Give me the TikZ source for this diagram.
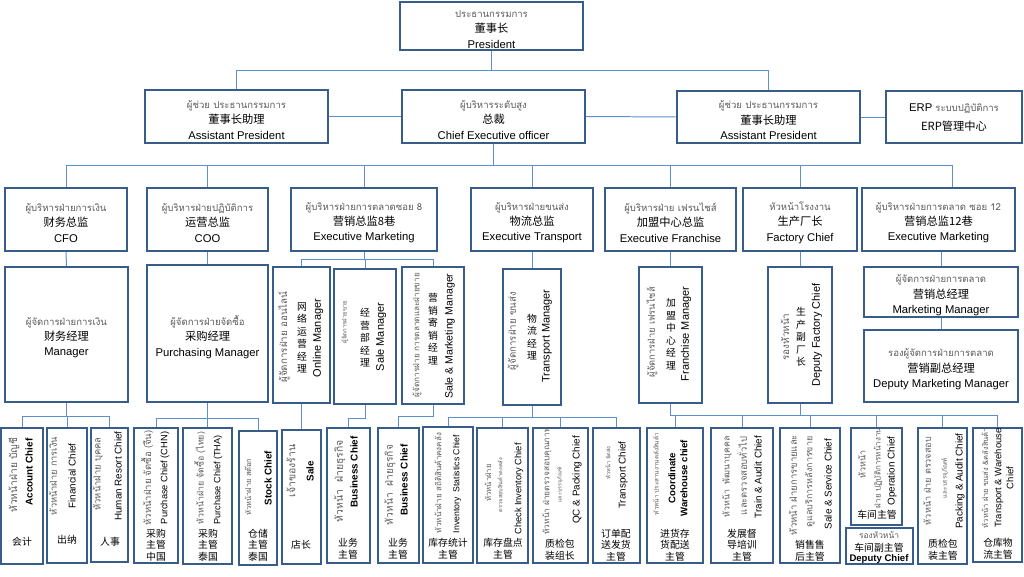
\documentclass[tikz,border=0pt]{standalone}
\usepackage{fontspec}
\setmainfont{Liberation Sans}
\newfontfamily\thaifont[Script=Thai]{Loma}
\newfontfamily\cjkfont{Noto Sans CJK SC}
\usepackage{xcolor}
\usepackage{graphicx}
\usetikzlibrary{fit, calc}
\definecolor{orgblue}{HTML}{385D8A}
\definecolor{orglink}{HTML}{5B8FCF}
\definecolor{orggray}{HTML}{5A5A5A}
\newlength{\pxu}
\setlength{\pxu}{0.025cm}
\newcommand{\tht}[1]{{\thaifont\fontsize{6.8}{11}\selectfont\color{orggray}#1}}
\newcommand{\cn}[1]{{\cjkfont #1}}
\newcommand{\thfit}[2]{\resizebox{#1\pxu}{!}{#2}}

\begin{document}
\begin{tikzpicture}[x=0.025cm, y=-0.025cm,
  unit/.style={draw=orgblue, line width=1.4pt, inner sep=0pt},
  hlbl/.style={align=center, inner sep=0pt, yshift=-0.8mm, font=\fontsize{8}{11}\selectfont},
  link/.style={draw=orglink, line width=0.7pt},
  rthai/.style={rotate=90, inner sep=0pt, font=\thaifont\fontsize{6.2}{8}\selectfont, text=orggray},
  reng/.style={rotate=90, inner sep=0pt, align=center, font=\fontsize{7}{8.5}\selectfont},
  rengm/.style={rotate=90, inner sep=0pt, font=\fontsize{7.8}{9}\selectfont},
  vcjk/.style={inner sep=0pt, align=center, font=\cjkfont\fontsize{7}{8.9}\selectfont},
  hcjk/.style={inner sep=0pt, align=center, font=\cjkfont\fontsize{7}{8.3}\selectfont},
]
\useasboundingbox (0,0) rectangle (1024,577);

% top levels
\node[unit, fit={(400,2) (583,50)}] (pres) {};
\node[hlbl] (presT) at (pres) {\tht{ประธานกรรมการ}\\\cn{董事长}\\President};
\node[unit, fit={(145,90) (328,143)}] (apl) {};
\node[hlbl] (aplT) at (apl) {\tht{ผู้ช่วย ประธานกรรมการ}\\\cn{董事长助理}\\Assistant President};
\node[unit, fit={(402,90) (585,143)}] (ceo) {};
\node[hlbl] (ceoT) at (ceo) {\tht{ผู้บริหารระดับสูง}\\\cn{总裁}\\Chief Executive officer};
\node[unit, fit={(677,91) (860,143)}] (apr) {};
\node[hlbl] (aprT) at (apr) {\tht{ผู้ช่วย ประธานกรรมการ}\\\cn{董事长助理}\\Assistant President};
\node[unit, fit={(886,91) (1022,143)}] (erp) {};
\node[hlbl, yshift=0.7mm] (erpT) at (erp) {ERP \tht{ระบบปฏิบัติการ}\\[2.5pt]\cn{ERP管理中心}};

% executives
\node[unit, fit={(5,188) (127,251)}] (cfo) {};
\node[hlbl] (cfoT) at (cfo) {\tht{ผู้บริหารฝ่ายการเงิน}\\\cn{财务总监}\\CFO};
\node[unit, fit={(147,188) (268,251)}] (coo) {};
\node[hlbl] (cooT) at (coo) {\tht{ผู้บริหารฝ่ายปฏิบัติการ}\\\cn{运营总监}\\COO};
\node[unit, fit={(291,188) (437,251)}] (m8) {};
\node[hlbl] (m8T) at (m8) {\tht{ผู้บริหารฝ่ายการตลาดซอย 8}\\\cn{营销总监8巷}\\Executive Marketing};
\node[unit, fit={(471,188) (593,251)}] (trans) {};
\node[hlbl] (transT) at (trans) {\tht{ผู้บริหารฝ่ายขนส่ง}\\\cn{物流总监}\\Executive Transport};
\node[unit, fit={(605,188) (736,251)}] (fran) {};
\node[hlbl] (franT) at (fran) {\tht{ผู้บริหารฝ่าย เฟรนไชส์}\\\cn{加盟中心总监}\\Executive Franchise};
\node[unit, fit={(743,188) (857,251)}] (fact) {};
\node[hlbl] (factT) at (fact) {\tht{หัวหน้าโรงงาน}\\\cn{生产厂长}\\Factory Chief};
\node[unit, fit={(862,188) (1015,251)}] (m12) {};
\node[hlbl] (m12T) at (m12) {\tht{ผู้บริหารฝ่ายการตลาด ซอย 12}\\\cn{营销总监12巷}\\Executive Marketing};

% managers
\node[unit, fit={(5,267) (128,402)}] (cfomgr) {};
\node[hlbl] (cfomgrT) at (cfomgr) {\tht{ผู้จัดการฝ่ายการเงิน}\\\cn{财务经理}\\Manager};
\node[unit, fit={(147,265) (268,402)}] (purch) {};
\node[hlbl] (purchT) at (purch) {\tht{ผู้จัดการฝ่ายจัดซื้อ}\\\cn{采购经理}\\Purchasing Manager};
\node[unit, fit={(273,267) (330,403)}] (onl) {};
\node[unit, fit={(334,269) (396,404)}] (salmgr) {};
\node[unit, fit={(402,267) (464,404)}] (sm) {};
\node[unit, fit={(503,269) (561,405)}] (tmgr) {};
\node[unit, fit={(639,267) (702,403)}] (fmgr) {};
\node[unit, fit={(768,267) (832,403)}] (fdep) {};
\node[unit, fit={(864,267) (1018,317)}] (mm) {};
\node[hlbl] (mmT) at (mm) {\tht{ผู้จัดการฝ่ายการตลาด}\\\cn{营销总经理}\\Marketing Manager};
\node[unit, fit={(864,330) (1018,402)}] (dmm) {};
\node[hlbl] (dmmT) at (dmm) {\tht{รองผู้จัดการฝ่ายการตลาด}\\\cn{营销副总经理}\\Deputy Marketing Manager};

\node[rthai] (onlTh) at (284,337) {\thfit{91}{ผู้จัดการฝ่าย ออนไลน์}};
\node[vcjk] (onlCn) at (302,338) {网\\络\\运\\营\\经\\理};
\node[rengm] (onlEn) at (318,338) {Online Manager};
\node[rthai] (salTh) at (345,322) {\thfit{43}{ผู้จัดการฝ่ายขาย}};
\node[vcjk] (salCn) at (365,338) {经\\营\\部\\经\\理};
\node[rengm] (salEn) at (381,337) {Sale Manager};
\node[rthai] (smTh) at (417,335) {\thfit{124}{ผู้จัดการฝ่าย การตลาดและฝ่ายขาย}};
\node[vcjk] (smCn) at (433,329) {营\\销\\寄\\销\\经\\理};
\node[rengm, font=\fontsize{7.5}{9}\selectfont] (smEn) at (450,336) {Sale \& Marketing Manager};
\node[rthai] (tmTh) at (513,331) {\thfit{78}{ผู้จัดการฝ่าย ขนส่ง}};
\node[vcjk] (tmCn) at (532,337) {物\\流\\经\\理};
\node[rengm] (tmEn) at (547,336) {Transport Manager};
\node[rthai] (fmTh) at (652,332) {\thfit{90}{ผู้จัดการฝ่าย เฟรนไชส์}};
\node[vcjk] (fmCn) at (671,334) {加\\盟\\中\\心\\经\\理};
\node[rengm] (fmEn) at (686,334) {Franchise Manager};
\node[rthai] (fdTh) at (785,337) {\thfit{47}{รองหัวหน้า}};
\node[vcjk] (fdCn) at (801,337) {生\\产\\副\\厂\\长};
\node[rengm] (fdEn) at (817,335) {Deputy Factory Chief};

% chiefs
\node[unit, fit={(1,428) (43,564)}] (acc) {};
\node[unit, fit={(47,428) (87,563)}] (fin) {};
\node[unit, fit={(91,428) (128,562)}] (hr) {};
\node[unit, fit={(134,428) (178,563)}] (pcn) {};
\node[unit, fit={(183,428) (232,564)}] (pth) {};
\node[unit, fit={(239,431) (277,565)}] (stk) {};
\node[unit, fit={(282,430) (321,564)}] (sale) {};
\node[unit, fit={(327,428) (370,563)}] (biz1) {};
\node[unit, fit={(378,428) (419,563)}] (biz2) {};
\node[unit, fit={(423,427) (473,563)}] (inv) {};
\node[unit, fit={(477,428) (528,563)}] (chk) {};
\node[unit, fit={(533,428) (588,563)}] (qc) {};
\node[unit, fit={(593,428) (640,563)}] (tch) {};
\node[unit, fit={(647,428) (703,563)}] (coord) {};
\node[unit, fit={(711,428) (773,563)}] (train) {};
\node[unit, fit={(780,428) (840,563)}] (svc) {};
\node[unit, fit={(851,428) (902,525)}] (op) {};
\node[unit, fit={(846,528) (913,564)}] (dep) {};
\node[unit, fit={(918,428) (967,564)}] (pk) {};
\node[unit, fit={(973,428) (1022,562)}] (tw) {};

\node[rthai] (accTh) at (14,475) {\thfit{75}{หัวหน้าฝ่าย บัญชี}};
\node[reng] (accEn) at (29,472) {\textbf{Account Chief}};
\node[hcjk] (accCn) at (22,542) {会计};
\node[rthai] (finTh) at (53,476) {\thfit{78}{หัวหน้าฝ่าย การเงิน}};
\node[reng] (finEn) at (72,476) {Financial Chief};
\node[hcjk] (finCn) at (67,540) {出纳};
\node[rthai] (hrTh) at (98,474) {\thfit{73}{หัวหน้าฝ่าย บุคคล}};
\node[reng] (hrEn) at (118,476) {Human Resort Chief};
\node[hcjk] (hrCn) at (110,542) {人事};
\node[rthai] (pcnTh) at (147,478) {\thfit{95}{หัวหน้าฝ่าย จัดซื้อ (จีน)}};
\node[reng, font=\fontsize{6.6}{8}\selectfont] (pcnEn) at (165,478) {Purchase Chief (CHN)};
\node[hcjk] (pcnCn) at (156,545) {采购\\主管\\中国};
\node[rthai] (pthTh) at (200,478) {\thfit{92}{หัวหน้าฝ่าย จัดซื้อ (ไทย)}};
\node[reng, font=\fontsize{6.5}{8}\selectfont] (pthEn) at (218,480) {Purchase Chief (THA)};
\node[hcjk] (pthCn) at (208,545) {采购\\主管\\泰国};
\node[rthai] (stkTh) at (248,487) {\thfit{57}{หัวหน้าฝ่าย สต๊อก}};
\node[reng] (stkEn) at (268,478) {\textbf{Stock Chief}};
\node[hcjk] (stkCn) at (258,545) {仓储\\主管\\泰国};

\node[rthai] (saleTh) at (291,471) {\thfit{53}{เจ้าของร้าน}};
\node[reng] (saleEn) at (310,471) {\textbf{Sale}};
\node[hcjk] (saleCn) at (301,545) {店长};
\node[rthai] (biz1Th) at (340,481) {\thfit{82}{หัวหน้า\ \ ฝ่ายธุรกิจ}};
\node[reng] (biz1En) at (354,472) {\textbf{Business Chief}};
\node[hcjk] (biz1Cn) at (348,549) {业务\\主管};
\node[rthai] (biz2Th) at (390,485) {\thfit{80}{หัวหน้า\ \ ฝ่ายธุรกิจ}};
\node[reng] (biz2En) at (404,480) {\textbf{Business Chief}};
\node[hcjk] (biz2Cn) at (398,549) {业务\\主管};
\node[rthai] (invTh) at (438,483) {\thfit{100}{หัวหน้าฝ่าย สถิติสินค้าคงคลัง}};
\node[reng, font=\fontsize{6.2}{8}\selectfont] (invEn) at (457,484) {Inventory\ \ Statistics Chief};
\node[hcjk] (invCn) at (448,549) {库存统计\\主管};

\node[rthai] (chkTh1) at (488,483) {\thfit{37}{หัวหน้าฝ่าย}};
\node[rthai] (chkTh2) at (500,485) {\thfit{54}{ตรวจสอบสินค้าคงคลัง}};
\node[reng, font=\fontsize{6.6}{8}\selectfont] (chkEn) at (519,489) {Check Inventory Chief};
\node[hcjk] (chkCn) at (503,549) {库存盘点\\主管};
\node[rthai] (qcTh1) at (547,481) {\thfit{107}{หัวหน้า ฝ่ายตรวจสอบคุณภาพ}};
\node[rthai] (qcTh2) at (560,485) {\thfit{35}{และบรรจุภัณฑ์}};
\node[reng] (qcEn) at (577,480) {QC \& Packing Chief};
\node[hcjk] (qcCn) at (560,550) {质检包\\装组长};
\node[rthai] (tchTh) at (608,463) {\thfit{33}{หัวหน้า จัดส่ง}};
\node[reng] (tchEn) at (623,475) {Transport Chief};
\node[hcjk] (tchCn) at (616,545) {订单配\\送发货\\主管};

\node[rthai] (coordTh) at (656,474) {\thfit{82}{หัวหน้า ประสานงานคลังสินค้า}};
\node[reng, font=\fontsize{6.8}{8.5}\selectfont] (coordEn) at (678,478) {\textbf{Coordinate}\\\textbf{Warehouse chief}};
\node[hcjk] (coordCn) at (675,545) {进货存\\货配送\\主管};
\node[rthai] (trainTh1) at (727,477) {\thfit{81}{หัวหน้า\ \ พัฒนาบุคคล}};
\node[rthai] (trainTh2) at (742,476) {\thfit{78}{และตรวจสอบทั่วไป}};
\node[reng] (trainEn) at (758,477) {Train \& Audit Chief};
\node[hcjk] (trainCn) at (742,545) {发展督\\导培训\\主管};
\node[rthai] (svcTh1) at (793,485) {\thfit{100}{หัวหน้า ฝ่ายการขายและ}};
\node[rthai] (svcTh2) at (810,482) {\thfit{91}{ดูแลบริการหลังการขาย}};
\node[reng] (svcEn) at (828,484) {Sale \& Service Chief};
\node[hcjk] (svcCn) at (810,551) {销售售\\后主管};

\node[rthai] (opTh1) at (862,464) {\thfit{28}{หัวหน้า}};
\node[rthai] (opTh2) at (878,468) {\thfit{80}{ฝ่าย ปฏิบัติการหน้างาน}};
\node[reng] (opEn) at (892,471) {Operation Chief};
\node[hcjk] (opCn) at (877,515) {车间主管};
\node[inner sep=0pt, text=orggray, font=\thaifont] (depTh) at (879,535) {\thfit{40}{รองหัวหน้า}};
\node[hcjk] (depCn) at (879,548) {车间副主管};
\node[inner sep=0pt, font=\bfseries\fontsize{6.8}{8}\selectfont] (depEn) at (879,559) {Deputy Chief};
\node[rthai] (pkTh1) at (927,481) {\thfit{88}{หัวหน้า ฝ่าย ตรวจสอบ}};
\node[rthai] (pkTh2) at (945,478) {\thfit{40}{และบรรจุภัณฑ์}};
\node[reng] (pkEn) at (960,481) {Packing \& Audit Chief};
\node[hcjk] (pkCn) at (943,550) {质检包\\装主管};
\node[rthai] (twTh) at (985,478) {\thfit{100}{หัวหน้า ฝ่าย ขนส่ง \&คลังสินค้า}};
\node[reng, font=\fontsize{6.7}{8.5}\selectfont] (twEn) at (1004,478) {Transport \& Warehouse\\Chief};
\node[hcjk] (twCn) at (998,549) {仓库物\\流主管};

% connectors
\draw[link] (pres.south) -- ++(0,20) -| (apl.north);
\draw[link] (pres.south) -- ++(0,20) -| (apr.north);
\draw[link] (apl.east) -- (ceo.west);
\draw[link] (ceo.east) -- (apr.west);
\draw[link] (apr.east) -- (erp.west);
\foreach \n in {cfo, coo, m8, trans, fran, fact}
  \draw[link] (ceo.south) -- ++(0,22) -| (\n.north);
\draw[link] (ceo.south) -- ++(0,22) -| ([xshift=0.35cm]m12.north);

\draw[link] (cfo.south) -- (cfomgr.north);
\draw[link] (coo.south) -- (purch.north);
\foreach \n in {onl, salmgr, sm}
  \draw[link] (m8.south) -- ++(0,8) -| (\n.north);
\draw[link] (trans.south) -- (tmgr.north);
\draw[link] (fran.south) -- (fmgr.north);
\draw[link] (fact.south) -- (fdep.north);
\draw[link] (m12.south -| mm.north) -- (mm.north);
\draw[link] (mm.south) -- (dmm.north);

\foreach \n in {acc, fin, hr}
  \draw[link] (cfomgr.south) -- ++(0,14) -| (\n.north);
\foreach \n in {pcn, pth, stk}
  \draw[link] (purch.south) -- ++(0,16) -| (\n.north);
\draw[link] (onl.south) -- (sale.north);
\draw[link] (salmgr.south) -- ++(0,14) -| (biz1.north);
\draw[link] (sm.south) -- ++(0,12) -| (biz2.north);
\foreach \n in {inv, chk, qc, tch}
  \draw[link] (tmgr.south) -- ++(0,12) -| (\n.north);
\draw[link] (fmgr.south) -- ++(0,12) -| (coord.north);
\foreach \n in {coord, train, svc, op, pk, tw}
  \draw[link] (fdep.south) -- ++(0,12) -| (\n.north);
\end{tikzpicture}
\end{document}
